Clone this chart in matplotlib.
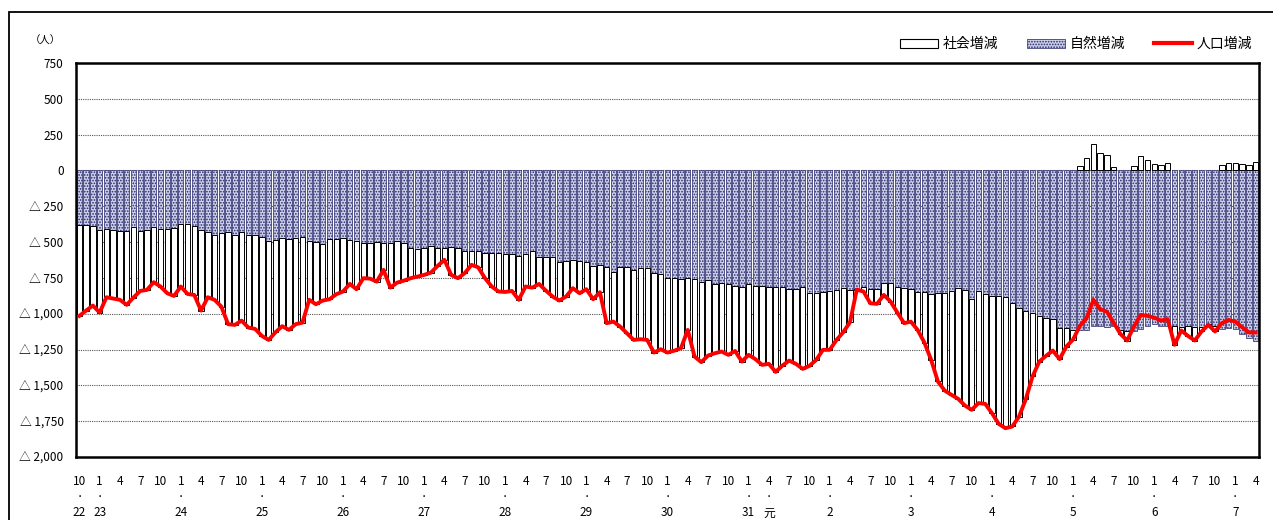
import numpy as np
import pandas as pd
import matplotlib
matplotlib.use('Agg')
import matplotlib.pyplot as plt
from matplotlib.patches import Patch, Rectangle
from matplotlib.lines import Line2D
import matplotlib.transforms as mtransforms

plt.rcParams['font.family'] = ['Noto Sans CJK JP', 'DejaVu Sans']
plt.rcParams['hatch.linewidth'] = 0.8

# ── データ（月次、2010年10月～2025年4月） ─────────────────────
months = pd.period_range('2010-10', '2025-04', freq='M')

# 自然増減（人）
natural = [
    -380, -380, -387, -415, -406, -417, -424, -424, -392, -422, -417, -392,
    -408, -408, -401, -373, -376, -385, -415, -427, -450, -434, -429, -448,
    -430, -452, -452, -466, -490, -485, -473, -480, -469, -466, -490, -497,
    -513, -478, -480, -469, -485, -490, -508, -508, -501, -504, -508, -490,
    -504, -543, -550, -543, -527, -538, -538, -531, -538, -559, -559, -559,
    -573, -578, -578, -585, -585, -594, -583, -564, -601, -606, -606, -636,
    -629, -624, -629, -636, -664, -659, -676, -711, -671, -676, -694, -683,
    -683, -717, -722, -752, -752, -755, -748, -755, -780, -764, -794, -787,
    -794, -803, -810, -794, -803, -803, -815, -815, -815, -829, -827, -815,
    -857, -857, -850, -838, -834, -822, -834, -829, -810, -829, -827, -787,
    -783, -815, -822, -829, -850, -845, -862, -857, -857, -838, -822, -834,
    -899, -838, -862, -876, -876, -885, -922, -962, -978, -992, -1015, -1031,
    -1038, -1101, -1097, -1113, -1115, -1115, -1086, -1089, -1093, -1089, -1115, -1120,
    -1120, -1109, -1088, -1070, -1086, -1088, -1085, -1090, -1088, -1092, -1090, -1075,
    -1088, -1104, -1098, -1105, -1139, -1169, -1193,
]

# 人口増減（人）
total = [
    -1015, -978, -943, -992, -885, -894, -903, -938, -887, -841, -834, -780,
    -810, -857, -876, -810, -862, -869, -978, -885, -903, -950, -1073, -1078,
    -1048, -1097, -1106, -1155, -1183, -1130, -1087, -1113, -1073, -1062, -903, -934,
    -908, -899, -864, -845, -792, -829, -752, -755, -776, -694, -818, -783,
    -769, -752, -741, -729, -713, -666, -624, -729, -752, -717, -659, -676,
    -752, -810, -845, -848, -841, -903, -810, -818, -792, -838, -880, -908,
    -880, -822, -857, -829, -899, -850, -1066, -1055, -1090, -1136, -1183, -1178,
    -1183, -1271, -1248, -1271, -1258, -1240, -1113, -1299, -1338, -1292, -1276, -1264,
    -1287, -1260, -1334, -1287, -1317, -1357, -1350, -1406, -1362, -1327, -1350, -1385,
    -1364, -1322, -1252, -1252, -1183, -1129, -1059, -832, -845, -927, -931, -869,
    -915, -992, -1066, -1055, -1113, -1201, -1322, -1473, -1536, -1566, -1594, -1641,
    -1671, -1624, -1629, -1694, -1769, -1799, -1787, -1718, -1597, -1438, -1334, -1294,
    -1257, -1317, -1229, -1180, -1085, -1030, -903, -969, -985, -1062, -1141, -1187,
    -1089, -1008, -1015, -1027, -1048, -1038, -1217, -1117, -1155, -1187, -1124, -1078,
    -1124, -1066, -1043, -1055, -1094, -1131, -1131,
]

# 年の目盛（和暦）
year_marks = [
    ('2010-10', '22'), ('2011-01', '23'), ('2012-01', '24'), ('2013-01', '25'),
    ('2014-01', '26'), ('2015-01', '27'), ('2016-01', '28'), ('2017-01', '29'),
    ('2018-01', '30'), ('2019-01', '31'), ('2019-04', '元'), ('2020-01', '2'),
    ('2021-01', '3'), ('2022-01', '4'), ('2023-01', '5'), ('2024-01', '6'),
    ('2025-01', '7'),
]

yticks = [750, 500, 250, 0, -250, -500, -750, -1000, -1250, -1500, -1750, -2000]

# ── 描画 ────────────────────────────────────────────────────
natural = np.array(natural)
total = np.array(total)
social = total - natural          # 人口増減 = 自然増減 + 社会増減
x = np.arange(len(months))

W, H = 1273, 520
fig = plt.figure(figsize=(W / 100, H / 100), dpi=100)
ax = fig.add_axes([76 / W, 1 - 457 / H, (1259 - 76) / W, (457 - 63) / H])

# 外枠
fig.patches.append(Rectangle((9 / W, -0.2), 1.2, 1.2 - 12 / H, transform=fig.transFigure,
                             fill=False, edgecolor='black', linewidth=1.3, clip_on=False))

nat_face, nat_edge = '#cdd0ea', '#262668'
ax.bar(x, natural, width=0.8, color=nat_face, edgecolor=nat_edge,
       hatch='......', linewidth=0.5, zorder=2)
soc_bottom = np.where(social < 0, natural, 0)
ax.bar(x, social, bottom=soc_bottom, width=0.8, color='white',
       edgecolor='black', linewidth=0.7, zorder=2)
ax.plot(x, total, color='#ff0000', linewidth=2.8, zorder=4, solid_joinstyle='round')

ax.set_xlim(-0.5, len(months) - 0.5)
ax.set_ylim(-2000, 750)
ax.set_yticks(yticks)
ax.set_yticklabels([f'{v:,}' if v >= 0 else f'△ {abs(v):,}' for v in yticks], fontsize=8.5)
ax.tick_params(axis='y', length=0, pad=9)
ax.set_xticks([])
for v in yticks:
    if v not in (750, -2000):
        ax.axhline(v, color='#555555', linewidth=0.8, linestyle=(0, (1, 1)), zorder=1)
for s in ax.spines.values():
    s.set_linewidth(1.8)

# x軸ラベル
trans = mtransforms.blended_transform_factory(ax.transData, ax.transAxes)
for i, p in enumerate(months):
    if p.month in (1, 4, 7, 10):
        ax.text(i, -0.061, str(p.month), transform=trans, ha='center', va='center',
                fontsize=8.5)
for ym, lab in year_marks:
    i = months.get_loc(pd.Period(ym, freq='M'))
    ax.text(i, -0.101, '・', transform=trans, ha='center', va='center', fontsize=6)
    ax.text(i, -0.142, lab, transform=trans, ha='center', va='center', fontsize=8.5)

fig.text(45 / W, 1 - 41 / H, '（人）', ha='center', va='center', fontsize=7.5)

handles = [Patch(facecolor='white', edgecolor='black', linewidth=0.8),
           Patch(facecolor=nat_face, edgecolor=nat_edge, hatch='......', linewidth=0.5),
           Line2D([0], [0], color='#ff0000', linewidth=3)]
fig.legend(handles, ['社会増減', '自然増減', '人口増減'], loc='center right',
           bbox_to_anchor=(1252 / W, 1 - 44 / H), ncol=3, frameon=False,
           fontsize=10, handlelength=2.7, handleheight=0.6, handletextpad=0.35,
           columnspacing=2.1, borderpad=0, borderaxespad=0)

fig.savefig('out.png', dpi=100)
